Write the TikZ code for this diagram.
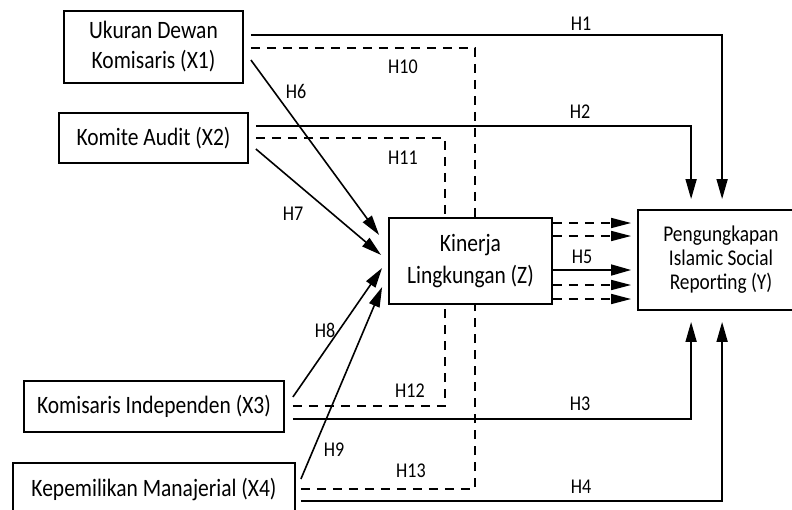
\documentclass[tikz,border=0pt]{standalone}
\usepackage{fontspec}
\setmainfont{Carlito}[FakeStretch=0.86]
\usetikzlibrary{calc,arrows.meta}
\begin{document}
\begin{tikzpicture}[x=1pt,y=-1pt,
  box/.style={draw,line width=1.8pt,align=center,inner sep=0pt,font=\fontsize{25}{30}\selectfont},
  hlabel/.style={font=\fontsize{21}{21}\selectfont,inner sep=0pt},
  solidarrow/.style={line width=1.6pt,-{Triangle[length=20pt,width=11pt]}},
  dashline/.style={line width=1.6pt,dash pattern=on 9pt off 7pt},
  dasharrow/.style={dashline,-{Triangle[length=20pt,width=10pt]}},
]
\fill[white] (0,0) rectangle (792,509);
\useasboundingbox (0,0) rectangle (792,509);

\node[box,minimum width=179pt,minimum height=72pt] (X1) at (153.5,47) {Ukuran Dewan\\Komisaris (X1)};
\node[box,minimum width=189pt,minimum height=50pt] (X2) at (153.5,138) {Komite Audit (X2)};
\node[box,minimum width=260pt,minimum height=51pt] (X3) at (154,406.5) {Komisaris Independen (X3)};
\node[box,minimum width=282pt,minimum height=52pt] (X4) at (154,489) {Kepemilikan Manajerial (X4)};
\node[box,minimum width=163pt,minimum height=86pt,font=\fontsize{25}{32}\selectfont] (Z) at (470.5,261) {Kinerja\\Lingkungan (Z)};
\node[box,minimum width=166pt,minimum height=100pt,font=\fontsize{22.5}{24}\selectfont] (Y) at (721,260) {Pengungkapan\\Islamic Social\\Reporting (Y)};

% direct paths to Y
\draw[solidarrow] ($(X1.east)+(7,-12)$) -| ($(Y.north west)+(85,-10)$);
\draw[solidarrow] ($(X2.east)+(7,-12)$) -| ($(Y.north west)+(54,-10)$);
\draw[solidarrow] ($(X3.east)+(8,12.5)$) -| ($(Y.south west)+(54,11)$);
\draw[solidarrow] ($(X4.east)+(5,12)$) -| ($(Y.south west)+(85,11)$);

% mediated (dashed) paths
\draw[dashline] ($(X1.east)+(7,1)$) -| ($(Z.north west)+(87,0)$);
\draw[dashline] ($(X2.east)+(7,0)$) -| ($(Z.north west)+(57,0)$);
\draw[dashline] ($(X3.east)+(8,-0.5)$) -| ($(Z.south west)+(57,0)$);
\draw[dashline] ($(X4.east)+(5,0)$) -| ($(Z.south west)+(87,0)$);

% paths to Z
\draw[solidarrow] ($(X1.east)+(7,13)$) -- ($(Z.west)+(-9,-26)$);
\draw[solidarrow] ($(X2.east)+(7,11)$) -- ($(Z.west)+(-7,-6)$);
\draw[solidarrow] ($(X3.east)+(8,-9.5)$) -- ($(Z.west)+(-6,7)$);
\draw[solidarrow] ($(X4.east)+(5,-10)$) -- ($(Z.west)+(-6,26)$);

% Z to Y
\foreach \dy in {-38,-25,24,38}
  \draw[dasharrow] ($(Z.east)+(0,\dy)$) -- ($(Y.west)+(-6,\dy+1)$);
\draw[solidarrow] ($(Z.east)+(0,9)$) -- ($(Y.west)+(-6,10)$);

% labels
\node[hlabel] (h1) at (581,24) {H1};
\node[hlabel] (h2) at (580,112) {H2};
\node[hlabel] (h3) at (580,404) {H3};
\node[hlabel] (h4) at (581,487) {H4};
\node[hlabel] (h5) at (582,257) {H5};
\node[hlabel] (h6) at (296,91) {H6};
\node[hlabel] (h7) at (293,214) {H7};
\node[hlabel] (h8) at (325,330) {H8};
\node[hlabel] (h9) at (334,450) {H9};
\node[hlabel] (h10) at (403,67) {H10};
\node[hlabel] (h11) at (403,158) {H11};
\node[hlabel] (h12) at (410,391) {H12};
\node[hlabel] (h13) at (411,471) {H13};
\end{tikzpicture}
\end{document}
